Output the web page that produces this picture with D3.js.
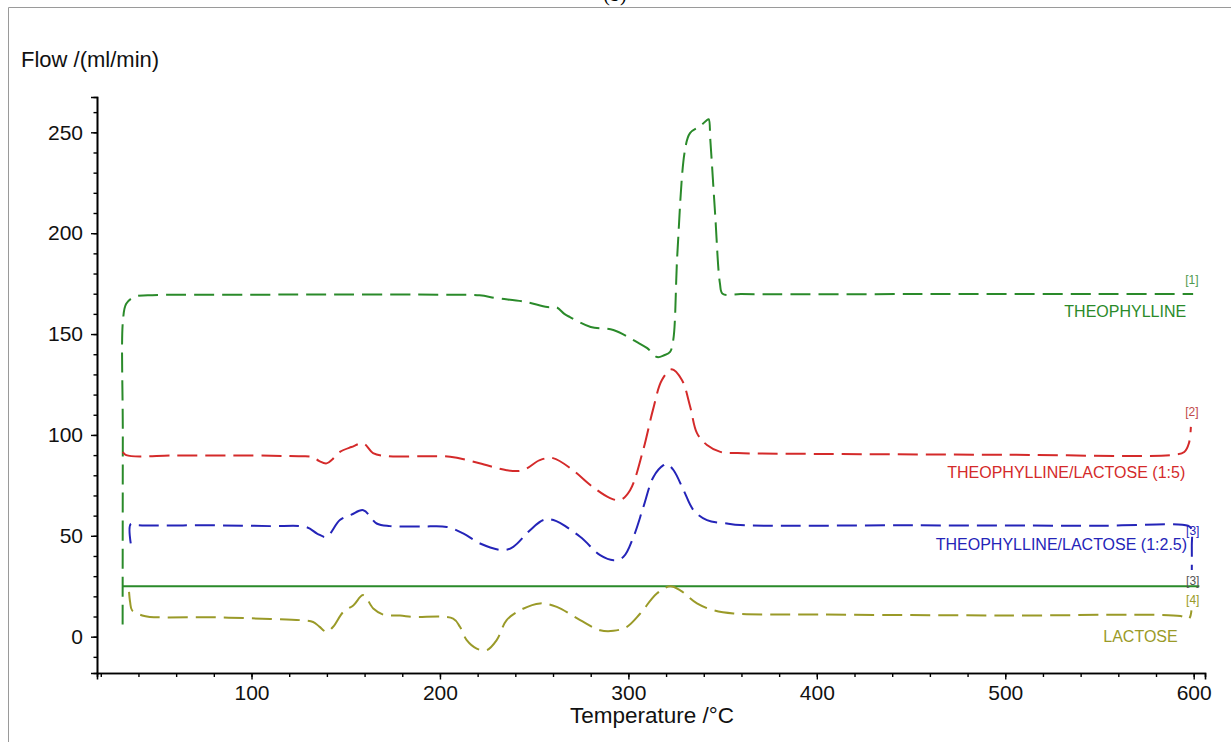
<!DOCTYPE html>
<html>
<head>
<meta charset="utf-8">
<script src="https://cdn.jsdelivr.net/npm/d3@7"></script>
<style>
  body { margin: 0; background: #fff; }
  text { font-family: "Liberation Sans", Arial, sans-serif; }
</style>
</head>
<body>
<svg id="chart" width="1231" height="742"></svg>
<script>
// Layout variables
let width = 1231,
    height = 742;
let margin = { top: 97, right: 26, bottom: 69, left: 97 };

// Data: [temperature °C, flow ml/min]
let theophylline = [[31.6, 6], [31.7, 100], [31.8, 157], [33.5, 165], [38, 168.5], [45, 169.2], [100, 169.5],
    [150, 169.6], [200, 169.5], [221, 169.2], [230, 167.8], [245, 166], [257, 163.4], [262, 163.2], [266, 160],
    [269, 158.4], [280, 153.5], [292, 152], [304.6, 146], [310, 143], [315.3, 138.6], [319, 139.5], [322, 141],
    [323.8, 147], [326, 190], [330, 241], [332.7, 249.6], [338, 253], [341.6, 256], [342.6, 256.5], [343.5, 246],
    [346, 210], [348.6, 175], [350, 170], [360, 169.8], [450, 169.8], [550, 169.8], [599.7, 169.8]];
let lactose15 = [[31.7, 91.6], [33.5, 90], [60, 89.8], [100, 89.8], [125, 89.4], [132.6, 89], [136, 87], [139.8, 85.9],
    [143, 88], [146.9, 91.6], [153, 94], [159.3, 95.8], [164.5, 91], [171.7, 89.5], [190, 89.4], [205.4, 89.2],
    [221, 86], [235.4, 82.5], [244, 82.5], [253, 87.5], [260, 88.5], [270.6, 82.5], [281, 74.3], [290.3, 68.7],
    [295.6, 67.7], [300.9, 72.6], [307.8, 92.4], [313, 112.3], [317.8, 127.2], [323, 132.5], [328.4, 127.2],
    [332.8, 114], [336.4, 100.9], [341.7, 95], [348.8, 91.6], [358, 91], [400, 90.6], [500, 90.2], [590, 90.2],
    [595, 91.5], [597.5, 96], [598.5, 104]];
let lactose125 = [[35.9, 46.2], [35.9, 55.8], [40, 55.3], [80, 55.2], [110, 54.8], [129.2, 54.3], [135, 51], [139.8, 49.5],
    [146.9, 57.8], [153, 60.5], [159.3, 62.7], [166.4, 56.1], [173.5, 54.8], [190, 54.6], [203.6, 54.4],
    [212.3, 51.2], [221.3, 46.2], [233.6, 42.9], [238.9, 44.5], [247.8, 52.8], [254.9, 57.8], [260.2, 57.8],
    [274.4, 49.5], [285, 40.4], [292.1, 37.9], [297.4, 39.6], [302.7, 49.5], [308, 64.4], [313.3, 79.2],
    [318.6, 85], [320.5, 85.5], [324, 82.5], [329.3, 72.6], [334.6, 62.7], [341.7, 57.8], [352.3, 56.1],
    [359.4, 55.3], [450, 55.2], [550, 55], [597, 55], [598.8, 53.5], [599, 45], [599, 33]];
let baseline = [[31.5, 25], [603, 25]];
let lactose = [[35, 22.2], [35.6, 17], [36.6, 13.1], [42, 10.5], [46, 9.8], [80, 9.6], [110, 8.8], [125.7, 8.2],
    [132.7, 7.3], [136, 5], [139.8, 2.4], [143.3, 4.9], [148.7, 12.3], [154, 15.5], [159.3, 20.6], [164.6, 14],
    [170, 10.9], [178.8, 10.5], [185.8, 9.8], [207, 9.0], [210.6, 4.9], [214.2, -1.7], [219.5, -5.9],
    [224.8, -6.7], [230.1, -1.7], [235.4, 8.2], [242.5, 13.1], [253.1, 16.5], [262, 14.8], [274.4, 8.2],
    [285, 3.2], [292.1, 2.9], [299.2, 4.9], [306.3, 11.5], [315.1, 21.4], [322.2, 25], [327.5, 23], [336.4, 16.5],
    [345.2, 13.1], [355.8, 11.5], [400, 11], [500, 10.5], [593, 10.2], [597.5, 9], [598.8, 13]];

let yMajor = [0, 50, 100, 150, 200, 250];
let yMinor = d3.range(-10, 261, 10);
let xMajor = [100, 200, 300, 400, 500, 600];
let xMinor = d3.range(20, 601, 20);

let series = [
    { name: "theophylline", data: theophylline, color: "#2a8a2a", dash: "20,8" },
    { name: "lactose15", data: lactose15, color: "#d42a2a", dash: "20,8" },
    { name: "lactose125", data: lactose125, color: "#2424b8", dash: "20,8" },
    { name: "baseline", data: baseline, color: "#2a8a2a", dash: null },
    { name: "lactose", data: lactose, color: "#9a9a28", dash: "20,8" }
];

let labels = [
    { text: "THEOPHYLLINE", t: 596, f: 160.5, color: "#2a8a2a" },
    { text: "THEOPHYLLINE/LACTOSE (1:5)", t: 595.5, f: 80.5, color: "#d42a2a" },
    { text: "THEOPHYLLINE/LACTOSE (1:2.5)", t: 596.5, f: 45, color: "#2424b8" },
    { text: "LACTOSE", t: 591.5, f: -0.5, color: "#9a9a28" }
];
let tags = [
    { text: "[1]", t: 599, f: 176.5, color: "#4f9a4f" },
    { text: "[2]", t: 599, f: 111, color: "#c04848" },
    { text: "[3]", t: 599.5, f: 52, color: "#2424b8" },
    { text: "[3]", t: 599.5, f: 27, color: "#555" },
    { text: "[4]", t: 599.5, f: 18, color: "#9a9a28" }
];

let svg = d3.select("#chart");

// Scales
let x = d3.scaleLinear().domain([18, 606]).range([margin.left, width - margin.right]);
let y = d3.scaleLinear().domain([-18, 267.5]).range([height - margin.bottom, margin.top]);

// Frame lines and cut-off panel letter
svg.append("path")
    .attr("d", "M8.5,742 V7.5 H1231")
    .attr("fill", "none")
    .attr("stroke", "#9a9a9a")
    .attr("stroke-width", 1);
svg.append("text")
    .attr("x", 615).attr("y", 1)
    .attr("text-anchor", "middle")
    .style("font-family", "'Liberation Serif', serif")
    .style("font-size", "20px")
    .text("(b)");

// Axes
let yAxisG = svg.append("g").attr("transform", `translate(${margin.left},0)`);
yAxisG.call(d3.axisLeft(y).tickValues(yMinor).tickSize(3.5).tickFormat(""));
yAxisG.append("g").call(d3.axisLeft(y).tickValues(yMajor).tickSize(6).tickPadding(8));

let xAxisG = svg.append("g").attr("transform", `translate(0,${height - margin.bottom})`);
xAxisG.call(d3.axisBottom(x).tickValues(xMinor).tickSize(4).tickFormat(""));
xAxisG.append("g").call(d3.axisBottom(x).tickValues(xMajor).tickSize(6.5).tickPadding(6));

svg.selectAll(".domain").attr("stroke", "#000").attr("stroke-width", 1.6);
svg.selectAll(".tick line").attr("stroke", "#000").attr("stroke-width", 1.4);
svg.selectAll(".tick text")
    .style("font-size", "21px")
    .style("font-family", "'Liberation Sans', Arial, sans-serif")
    .attr("fill", "#111");

// Axis titles
svg.append("text")
    .attr("x", 21).attr("y", 67)
    .style("font-size", "22px")
    .attr("fill", "#111")
    .text("Flow /(ml/min)");
svg.append("text")
    .attr("x", 652).attr("y", 723)
    .attr("text-anchor", "middle")
    .style("font-size", "22.5px")
    .attr("fill", "#111")
    .text("Temperature /°C");

// Curves
let line = d3.line()
    .x(d => x(d[0]))
    .y(d => y(d[1]))
    .curve(d3.curveCatmullRom.alpha(0.5));

svg.selectAll(".curve")
    .data(series)
    .join("path")
    .attr("class", "curve")
    .attr("d", d => line(d.data))
    .attr("fill", "none")
    .attr("stroke", d => d.color)
    .attr("stroke-width", d => d.dash ? 2 : 1.8)
    .attr("stroke-dasharray", d => d.dash);

// Series labels
svg.selectAll(".label")
    .data(labels)
    .join("text")
    .attr("class", "label")
    .attr("x", d => x(d.t))
    .attr("y", d => y(d.f))
    .attr("text-anchor", "end")
    .attr("dominant-baseline", "middle")
    .style("font-size", "16px")
    .attr("fill", d => d.color)
    .text(d => d.text);

svg.selectAll(".tag")
    .data(tags)
    .join("text")
    .attr("class", "tag")
    .attr("x", d => x(d.t))
    .attr("y", d => y(d.f))
    .attr("text-anchor", "middle")
    .attr("dominant-baseline", "middle")
    .style("font-size", "12px")
    .attr("fill", d => d.color)
    .text(d => d.text);
</script>
</body>
</html>
